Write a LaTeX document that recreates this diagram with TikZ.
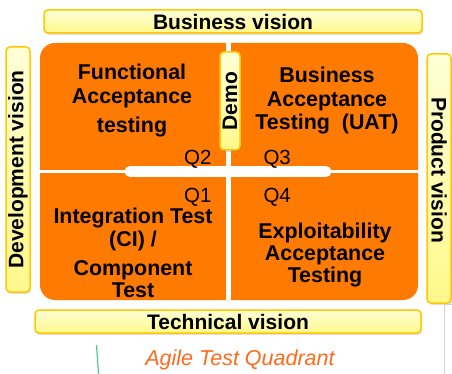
\documentclass[tikz,border=0pt]{standalone}
\usepackage{tikz}
\usepackage{xcolor}
\usepackage{fontspec}
\setmainfont{Liberation Sans}
\usetikzlibrary{shadows}

\definecolor{quadorange}{RGB}{255,122,0}
\definecolor{boxedge}{RGB}{255,200,0}
\definecolor{boxtop}{RGB}{255,255,215}
\definecolor{boxbottom}{RGB}{255,248,140}
\definecolor{titleorange}{RGB}{255,106,26}
\definecolor{strokegreen}{RGB}{80,200,140}

\tikzset{
  visionbox/.style={draw=boxedge, line width=1.5pt, rounded corners=4pt,
    top color=boxtop, bottom color=boxbottom, inner sep=0pt,
    drop shadow={shadow xshift=1pt, shadow yshift=-2pt, opacity=0.25},
    font=\fontsize{21}{23}\selectfont\bfseries},
  quadtext/.style={align=center, font=\fontsize{21.4}{23.5}\selectfont\bfseries},
  qlabel/.style={font=\fontsize{20.5}{23}\selectfont}
}

\begin{document}
\begin{tikzpicture}[x=1pt, y=-1pt]
  \useasboundingbox (0,0) rectangle (452,374);

  % Draw the four quadrants
  \fill[quadorange, rounded corners=15pt] (40,43) rectangle (418,300);
  \draw[white, line width=5pt] (228.5,43) -- (228.5,300);
  \draw[white, line width=3pt] (40,172) -- (418,172);
  \draw[white, line width=11pt, line cap=round] (130,171.5) -- (326,171.5);

  % Vision boxes around the quadrants
  \node[visionbox, minimum width=378pt, minimum height=23pt] (bizvision) at (233,21.5) {Business vision};
  \node[visionbox, minimum width=386pt, minimum height=23pt] (techvision) at (228,321.5) {Technical vision};
  \node[visionbox, rotate=90, minimum width=245pt, minimum height=24pt] (devvision) at (18,169.5) {Development vision};
  \node[visionbox, rotate=-90, minimum width=249pt, minimum height=24pt] (prodvision) at (439,178.5) {};
  \node[rotate=-90, font=\fontsize{21}{23}\selectfont\bfseries] (prodtext) at (439,170) {Product vision};
  \node[visionbox, rotate=90, minimum width=98pt, minimum height=20pt] (demo) at (230,101) {Demo};

  % Quadrant texts
  \node[quadtext] (funcacc) at (132,101) {Functional\\Acceptance\\[6pt]testing};
  \node[quadtext] (bizacc) at (327,101) {Business\\Acceptance\\Testing\ \ (UAT)};
  \node[quadtext] (integ) at (133,253) {Integration Test\\(CI) /\\[5pt]Component\\[-1pt]Test};
  \node[quadtext] (exploit) at (325,255) {Exploitability\\[-1pt]Acceptance\\[-2pt]Testing};

  % Quadrant numbers
  \node[qlabel, anchor=base east] (q2) at (215,165) {Q2};
  \node[qlabel, anchor=base west] (q3) at (260,165) {Q3};
  \node[qlabel, anchor=base east] (q1) at (215,202) {Q1};
  \node[qlabel, anchor=base west] (q4) at (260,202) {Q4};

  % Caption and stray marks
  \node[anchor=base, text=titleorange, font=\fontsize{21.5}{23}\selectfont\itshape] (caption) at (240,365) {Agile Test Quadrant};
  \draw[strokegreen, line width=1.2pt] (96.5,345) -- (98.5,374);
  \draw[gray!35] (444,374) -- (444,304) -- (452,304);
\end{tikzpicture}
\end{document}
